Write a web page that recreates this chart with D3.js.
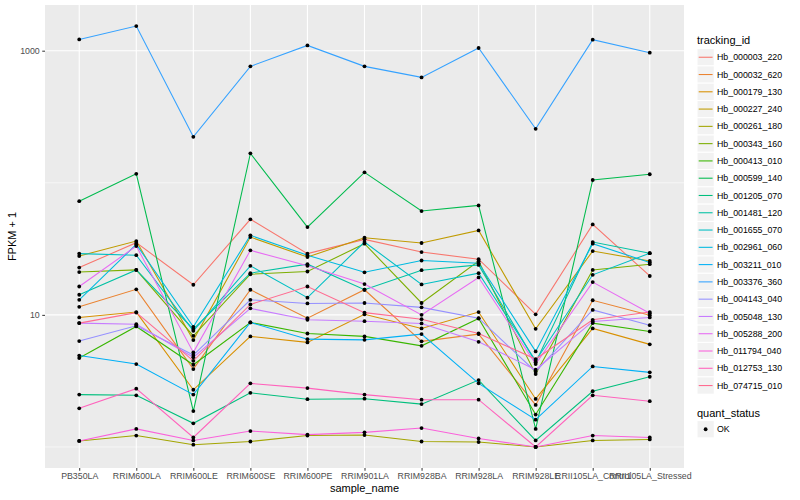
<!DOCTYPE html>
<html>
<head>
<meta charset="utf-8">
<script src="https://cdn.jsdelivr.net/npm/d3@7"></script>
<style>
body { margin: 0; background: #fff; }
text { font-family: "Liberation Sans", Arial, sans-serif; }
</style>
</head>
<body>
<script>
// x categories
const samples = ["PB350LA", "RRIM600LA", "RRIM600LE", "RRIM600SE", "RRIM600PE", "RRIM901LA",
  "RRIM928BA", "RRIM928LA", "RRIM928LE", "RRII105LA_Control", "RRII105LA_Stressed"];

const trackingIds = ["Hb_000003_220", "Hb_000032_620", "Hb_000179_130", "Hb_000227_240", "Hb_000261_180",
  "Hb_000343_160", "Hb_000413_010", "Hb_000599_140", "Hb_001205_070", "Hb_001481_120",
  "Hb_001655_070", "Hb_002961_060", "Hb_003211_010", "Hb_003376_360", "Hb_004143_040",
  "Hb_005048_130", "Hb_005288_200", "Hb_011794_040", "Hb_012753_130", "Hb_074715_010"];

// FPKM + 1, one array per gene, in sample order
const hb_000003_220 = [22.8, 35.2, 16.9, 52.9, 29.1, 37.3, 29.9, 26.4, 10.1, 48.4, 19.7];
const hb_000032_620 = [11.5, 15.6, 3.89, 15.5, 9.44, 15.5, 6.30, 7.15, 2.08, 12.9, 9.95];
const hb_000179_130 = [9.56, 10.5, 2.71, 6.87, 6.19, 10.1, 7.89, 10.5, 2.31, 7.89, 5.98];
const hb_000227_240 = [27.9, 36.2, 6.44, 38.8, 27.4, 38.4, 35.0, 43.6, 7.84, 30.4, 25.6];
const hb_000261_180 = [1.11, 1.22, 1.04, 1.10, 1.22, 1.23, 1.10, 1.09, 1.0, 1.12, 1.14];
const hb_000343_160 = [21.1, 21.9, 6.94, 20.3, 21.3, 34.6, 12.3, 25.5, 3.56, 21.9, 24.2];
const hb_000413_010 = [4.71, 8.17, 4.19, 8.76, 7.23, 6.87, 5.83, 9.39, 1.76, 8.66, 7.49];
const hb_000599_140 = [72.6, 117, 1.87, 167, 46.2, 120, 61.1, 67.4, 1.37, 105, 116];
const hb_001205_070 = [2.49, 2.46, 1.51, 2.57, 2.30, 2.32, 2.11, 3.21, 1.12, 2.64, 3.40];
const hb_001481_120 = [14.2, 21.9, 7.80, 20.7, 24.2, 15.5, 21.8, 23.9, 4.37, 35.6, 29.3];
const hb_001655_070 = [29.1, 28.3, 7.57, 23.5, 13.5, 35.6, 17.0, 20.7, 4.49, 20.1, 29.3];
const hb_002961_060 = [13.0, 34.2, 8.12, 40.0, 28.3, 21.0, 25.8, 24.6, 5.29, 34.6, 24.9];
const hb_003211_010 = [4.92, 4.24, 2.49, 8.76, 6.55, 6.47, 7.15, 3.03, 1.61, 4.07, 3.67];
const hb_003376_360 = [1217, 1537, 223, 761, 1097, 761, 628, 1048, 256, 1211, 966];
const hb_004143_040 = [6.33, 8.26, 4.96, 13.0, 12.2, 12.3, 11.4, 9.44, 3.71, 10.9, 8.36];
const hb_005048_130 = [8.66, 8.50, 4.77, 11.2, 9.17, 8.96, 8.61, 6.25, 3.84, 8.92, 9.56];
const hb_005288_200 = [16.4, 33.2, 5.20, 30.8, 23.5, 17.1, 10.0, 19.2, 4.24, 17.7, 10.3];
const hb_011794_040 = [1.11, 1.37, 1.12, 1.32, 1.24, 1.29, 1.39, 1.16, 1.0, 1.22, 1.18];
const hb_012753_130 = [1.96, 2.76, 1.18, 3.03, 2.79, 2.49, 2.28, 2.28, 1.0, 2.46, 2.22];
const hb_074715_010 = [8.66, 10.4, 4.49, 12.0, 16.4, 10.4, 9.28, 7.23, 4.63, 9.17, 10.5];

const yTicks = [10, 1000];
const yMinor = [1, 100];

const palette = ["#F8766D", "#EA8331", "#D89000", "#C09B00", "#A3A500", "#7CAE00", "#39B600", "#00BB4E",
  "#00BF7D", "#00C1A3", "#00BFC4", "#00BAE0", "#00B0F6", "#35A2FF", "#9590FF", "#C77CFF",
  "#E76BF3", "#FA62DB", "#FF62BC", "#FF6C91"];

const seriesValues = [hb_000003_220, hb_000032_620, hb_000179_130, hb_000227_240, hb_000261_180,
  hb_000343_160, hb_000413_010, hb_000599_140, hb_001205_070, hb_001481_120, hb_001655_070,
  hb_002961_060, hb_003211_010, hb_003376_360, hb_004143_040, hb_005048_130, hb_005288_200,
  hb_011794_040, hb_012753_130, hb_074715_010];

const series = trackingIds.map((id, i) => ({
  id: id,
  color: palette[i],
  values: seriesValues[i].map((v, j) => ({ sample: samples[j], v: v }))
}));

const W = 800, H = 500;
const panel = { left: 45, right: 684, top: 5, bottom: 468 };

const svg = d3.select("body").append("svg")
  .attr("width", W)
  .attr("height", H);

// log scale with ggplot-like 5% expansion
const allVals = seriesValues.flat();
const lo = Math.log10(d3.min(allVals)), hi = Math.log10(d3.max(allVals));
const pad = (hi - lo) * 0.05;
const y = d3.scaleLog()
  .domain([Math.pow(10, lo - pad), Math.pow(10, hi + pad)])
  .range([panel.bottom, panel.top]);

const x = d3.scalePoint()
  .domain(samples)
  .range([panel.left, panel.right])
  .padding(0.6);

// panel
svg.append("rect")
  .attr("x", panel.left).attr("y", panel.top)
  .attr("width", panel.right - panel.left).attr("height", panel.bottom - panel.top)
  .attr("fill", "#EBEBEB");

svg.selectAll(".minor").data(yMinor).enter().append("line")
  .attr("x1", panel.left).attr("x2", panel.right)
  .attr("y1", d => y(d)).attr("y2", d => y(d))
  .attr("stroke", "#fff").attr("stroke-width", 0.55);

svg.selectAll(".major").data(yTicks).enter().append("line")
  .attr("x1", panel.left).attr("x2", panel.right)
  .attr("y1", d => y(d)).attr("y2", d => y(d))
  .attr("stroke", "#fff").attr("stroke-width", 1.1);

svg.selectAll(".vgrid").data(samples).enter().append("line")
  .attr("x1", d => x(d)).attr("x2", d => x(d))
  .attr("y1", panel.top).attr("y2", panel.bottom)
  .attr("stroke", "#fff").attr("stroke-width", 1.1);

// axes
const yAxis = svg.append("g")
  .attr("transform", `translate(${panel.left},0)`)
  .call(d3.axisLeft(y).tickValues(yTicks).tickFormat(d3.format("d")).tickSize(2.75).tickPadding(2.5));
const xAxis = svg.append("g")
  .attr("transform", `translate(0,${panel.bottom})`)
  .call(d3.axisBottom(x).tickSize(2.75).tickPadding(2.5));
[yAxis, xAxis].forEach(g => {
  g.select(".domain").remove();
  g.selectAll("line").attr("stroke", "#333333");
  g.selectAll("text").attr("fill", "#4D4D4D").style("font-size", "8.8px")
    .style("font-family", "'Liberation Sans', Arial, sans-serif");
});

svg.append("text")
  .attr("x", (panel.left + panel.right) / 2).attr("y", 492)
  .attr("text-anchor", "middle").style("font-size", "11px")
  .text("sample_name");
svg.append("text")
  .attr("transform", `translate(16,${(panel.top + panel.bottom) / 2}) rotate(-90)`)
  .attr("text-anchor", "middle").style("font-size", "11px")
  .text("FPKM + 1");

// lines
const line = d3.line()
  .x(d => x(d.sample))
  .y(d => y(d.v));

svg.append("g").selectAll("path").data(series).enter().append("path")
  .attr("d", d => line(d.values))
  .attr("fill", "none")
  .attr("stroke", d => d.color)
  .attr("stroke-width", 1.07);

// points
svg.append("g").selectAll("g").data(series).enter().append("g")
  .selectAll("circle").data(d => d.values).enter().append("circle")
  .attr("cx", d => x(d.sample))
  .attr("cy", d => y(d.v))
  .attr("r", 1.9)
  .attr("fill", "#000");

// legend: tracking_id
const lg = svg.append("g").attr("transform", "translate(697,0)");
lg.append("text").attr("x", 0).attr("y", 44).style("font-size", "11px").text("tracking_id");
const keyH = 17.28;
const keys = lg.selectAll(".key").data(series).enter().append("g")
  .attr("transform", (d, i) => `translate(0,${48.6 + i * keyH})`);
keys.append("rect").attr("width", keyH).attr("height", keyH)
  .attr("fill", "#F2F2F2").attr("stroke", "#fff").attr("stroke-width", 1);
keys.append("line").attr("x1", 1.7).attr("x2", keyH - 1.7)
  .attr("y1", keyH / 2).attr("y2", keyH / 2)
  .attr("stroke", d => d.color).attr("stroke-width", 1.07);
keys.append("text").attr("x", 20).attr("y", keyH / 2 + 3.1)
  .style("font-size", "8.8px").text(d => d.id);

// legend: quant_status
lg.append("text").attr("x", 0).attr("y", 417).style("font-size", "11px").text("quant_status");
const ok = lg.append("g").attr("transform", "translate(0,420.6)");
ok.append("rect").attr("width", keyH).attr("height", keyH)
  .attr("fill", "#F2F2F2").attr("stroke", "#fff");
ok.append("circle").attr("cx", keyH / 2).attr("cy", keyH / 2).attr("r", 1.9).attr("fill", "#000");
ok.append("text").attr("x", 20).attr("y", keyH / 2 + 3.1).style("font-size", "8.8px").text("OK");
</script>
</body>
</html>
